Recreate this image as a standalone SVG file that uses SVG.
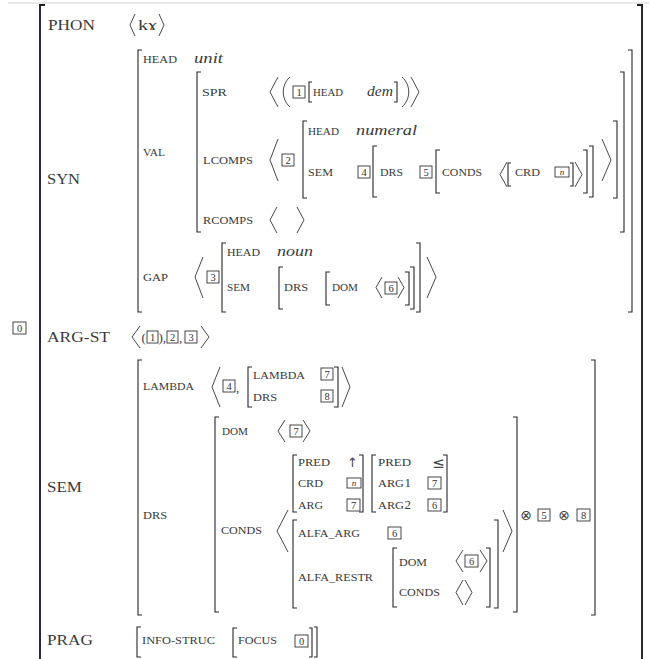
<svg xmlns="http://www.w3.org/2000/svg" width="649" height="659" viewBox="0 0 649 659">
<style>
.b{fill:none;stroke:#262630;stroke-width:1.1}
.ob{fill:none;stroke:#1e1e28;stroke-width:1.9}
.a{fill:none;stroke:#333;stroke-width:0.9}
.t rect{fill:none;stroke:#333;stroke-width:0.9}
.t text{font-family:"Liberation Serif",serif;font-size:10.5px;fill:#333;text-anchor:middle}
.f{font-family:"Liberation Serif",serif;font-size:11px;fill:#3a3a3a}
.L{font-family:"Liberation Serif",serif;font-size:15px;fill:#3a3a3a}
.i{font-family:"Liberation Serif",serif;font-size:15px;font-style:italic;fill:#3a3a3a}
.s{font-family:"DejaVu Sans",sans-serif;fill:#444;text-anchor:middle}
</style>
<line x1="8" y1="3" x2="649" y2="3" stroke="#d4d4d4" stroke-width="1"/>
<g id="outer">
<path class="ob" d="M45 5 H40 V659"/>
<path class="ob" d="M637 5 H642 V659"/>
<g class="t"><rect x="13" y="322" width="13" height="12"/><text x="19.5" y="331.5">0</text></g>
</g>
<g id="phon">
<text class="L" x="48" y="30" textLength="47" lengthAdjust="spacingAndGlyphs">PHON</text>
<path class="a" d="M135 14 L130 25 L135 36"/>
<text class="L" x="138" y="30" textLength="19" lengthAdjust="spacingAndGlyphs" style="font-family:'Liberation Serif','DejaVu Serif',serif">kɤ</text>
<path class="a" d="M159 14 L164 25 L159 36"/>
</g>
<g id="syn">
<path class="b" d="M142 50 H138 V312 H142"/>
<path class="b" d="M628 50 H632 V312 H628"/>
<text class="L" x="47" y="184" textLength="33" lengthAdjust="spacingAndGlyphs">SYN</text>
<text class="f" x="143" y="63" textLength="34" lengthAdjust="spacingAndGlyphs">HEAD</text>
<text class="i" x="194" y="63" textLength="29" lengthAdjust="spacingAndGlyphs">unit</text>
<text class="f" x="143" y="155.5" textLength="22" lengthAdjust="spacingAndGlyphs">VAL</text>
<text class="f" x="143" y="280.5" textLength="25" lengthAdjust="spacingAndGlyphs">GAP</text>
<g id="val">
<path class="b" d="M201 72 H197 V232 H201"/>
<path class="b" d="M620 72 H624 V232 H620"/>
<text class="f" x="202" y="95.5" textLength="25" lengthAdjust="spacingAndGlyphs">SPR</text>
<path class="a" d="M278 77 L270 92 L278 107"/>
<path class="a" d="M290 77 C281 85 281 99 290 107"/>
<g class="t"><rect x="293" y="86" width="12" height="12"/><text x="299" y="96">1</text></g>
<path class="b" d="M312 82 H309 V102 H312"/>
<text class="f" x="313" y="95.5" textLength="30" lengthAdjust="spacingAndGlyphs">HEAD</text>
<text class="i" x="367" y="95.5" textLength="26" lengthAdjust="spacingAndGlyphs">dem</text>
<path class="b" d="M394 82 H397 V102 H394"/>
<path class="a" d="M402 77 C411 85 411 99 402 107"/>
<path class="a" d="M411 77 L419 92 L411 107"/>
<text class="f" x="203" y="163.5" textLength="50" lengthAdjust="spacingAndGlyphs">LCOMPS</text>
<path class="a" d="M278 139 L270 160 L278 181"/>
<g class="t"><rect x="282" y="154" width="12" height="12"/><text x="288" y="164">2</text></g>
<path class="b" d="M307 121 H303 V198 H307"/>
<text class="f" x="308" y="134.5" textLength="31" lengthAdjust="spacingAndGlyphs">HEAD</text>
<text class="i" x="356" y="134.5" textLength="61" lengthAdjust="spacingAndGlyphs">numeral</text>
<text class="f" x="308" y="176" textLength="25" lengthAdjust="spacingAndGlyphs">SEM</text>
<g class="t"><rect x="358" y="166" width="12" height="12"/><text x="364" y="176">4</text></g>
<path class="b" d="M377 146 H373 V197 H377"/>
<text class="f" x="380" y="176" textLength="23" lengthAdjust="spacingAndGlyphs">DRS</text>
<g class="t"><rect x="420" y="166" width="12" height="12"/><text x="426" y="176">5</text></g>
<path class="b" d="M440 150 H436 V193 H440"/>
<text class="f" x="442" y="176" textLength="40" lengthAdjust="spacingAndGlyphs">CONDS</text>
<path class="a" d="M507 162 L500 174.5 L507 187"/>
<path class="b" d="M511 163 H508 V186 H511"/>
<text class="f" x="515" y="176" textLength="25" lengthAdjust="spacingAndGlyphs">CRD</text>
<g class="t"><rect x="555" y="167" width="14" height="10"/><text x="562" y="175" style="font-style:italic;font-size:9px">n</text></g>
<path class="b" d="M570 163 H573 V186 H570"/>
<path class="a" d="M575 162 L582 174.5 L575 187"/>
<path class="b" d="M583 150 H587 V193 H583"/>
<path class="b" d="M589 146 H593 V197 H589"/>
<path class="a" d="M602 139 L611 160 L602 181"/>
<path class="b" d="M613 121 H617 V198 H613"/>
<text class="f" x="203" y="223.5" textLength="50" lengthAdjust="spacingAndGlyphs">RCOMPS</text>
<path class="a" d="M277 207 L270 220 L277 233"/>
<path class="a" d="M297 207 L304 220 L297 233"/>
</g>
<g id="gap">
<path class="a" d="M203 257 L195 277 L203 298"/>
<g class="t"><rect x="207" y="271" width="12" height="12"/><text x="213" y="281">3</text></g>
<path class="b" d="M226 243 H222 V312 H226"/>
<text class="f" x="227" y="255.5" textLength="33" lengthAdjust="spacingAndGlyphs">HEAD</text>
<text class="i" x="277" y="255.5" textLength="36" lengthAdjust="spacingAndGlyphs">noun</text>
<text class="f" x="227" y="290.5" textLength="23" lengthAdjust="spacingAndGlyphs">SEM</text>
<path class="b" d="M283 267 H279 V309 H283"/>
<text class="f" x="284" y="290.5" textLength="24" lengthAdjust="spacingAndGlyphs">DRS</text>
<path class="b" d="M330 272 H326 V305 H330"/>
<text class="f" x="332" y="290.5" textLength="26" lengthAdjust="spacingAndGlyphs">DOM</text>
<path class="a" d="M382 277 L376 287.5 L382 298"/>
<g class="t"><rect x="385" y="282" width="12" height="12"/><text x="391" y="292">6</text></g>
<path class="a" d="M398 277 L404 287.5 L398 298"/>
<path class="b" d="M405 272 H409 V305 H405"/>
<path class="b" d="M410 267 H414 V309 H410"/>
<path class="b" d="M416 243 H420 V312 H416"/>
<path class="a" d="M427 257 L436 277 L427 298"/>
</g>
</g>
<g id="argst">
<text class="L" x="47" y="342" textLength="63" lengthAdjust="spacingAndGlyphs">ARG-ST</text>
<path class="a" d="M140 326 L132 337 L140 348"/>
<text class="L" x="141.5" y="342" style="font-size:13px">(</text>
<g class="t"><rect x="147" y="331" width="11" height="12"/><text x="152.5" y="341">1</text></g>
<text class="L" x="158.5" y="342" style="font-size:13px">),</text>
<g class="t"><rect x="167" y="331" width="11" height="12"/><text x="172.5" y="341">2</text></g>
<text class="L" x="179" y="342" style="font-size:13px">,</text>
<g class="t"><rect x="185" y="331" width="12" height="12"/><text x="191" y="341">3</text></g>
<path class="a" d="M201 326 L209 337 L201 348"/>
</g>
<g id="sem">
<path class="b" d="M142 360 H138 V615 H142"/>
<path class="b" d="M591 360 H595 V615 H591"/>
<text class="L" x="47" y="492" textLength="35" lengthAdjust="spacingAndGlyphs">SEM</text>
<text class="f" x="143" y="389.5" textLength="51" lengthAdjust="spacingAndGlyphs">LAMBDA</text>
<path class="a" d="M220 367 L212 387 L220 407"/>
<g class="t"><rect x="223" y="380" width="12" height="12"/><text x="229" y="390">4</text></g>
<text class="L" x="236" y="392" style="font-size:13px">,</text>
<path class="b" d="M252 367 H248 V407 H252"/>
<text class="f" x="253" y="378.5" textLength="52" lengthAdjust="spacingAndGlyphs">LAMBDA</text>
<g class="t"><rect x="321" y="368" width="12" height="12"/><text x="327" y="378">7</text></g>
<text class="f" x="253" y="400.5" textLength="24" lengthAdjust="spacingAndGlyphs">DRS</text>
<g class="t"><rect x="321" y="390" width="12" height="12"/><text x="327" y="400">8</text></g>
<path class="b" d="M334 367 H338 V407 H334"/>
<path class="a" d="M342 367 L350 387 L342 407"/>
<text class="f" x="143" y="518.5" textLength="24" lengthAdjust="spacingAndGlyphs">DRS</text>
<g id="drs">
<path class="b" d="M219 417 H215 V612 H219"/>
<path class="b" d="M513 417 H517 V612 H513"/>
<text class="f" x="222" y="434.5" textLength="26" lengthAdjust="spacingAndGlyphs">DOM</text>
<path class="a" d="M285 420 L278 431 L285 442"/>
<g class="t"><rect x="290" y="425" width="12" height="12"/><text x="296" y="435">7</text></g>
<path class="a" d="M303 420 L310 431 L303 442"/>
<text class="f" x="221" y="533.5" textLength="41" lengthAdjust="spacingAndGlyphs">CONDS</text>
<path class="a" d="M288 510 L277 531 L288 552"/>
<path class="b" d="M297 455 H293 V512 H297"/>
<text class="f" x="298" y="465.5" textLength="32" lengthAdjust="spacingAndGlyphs">PRED</text>
<text class="s" x="352.5" y="467" style="font-size:13px">↑</text>
<text class="f" x="298" y="486.5" textLength="25" lengthAdjust="spacingAndGlyphs">CRD</text>
<g class="t"><rect x="347" y="478" width="14" height="10"/><text x="354" y="486" style="font-style:italic;font-size:9px">n</text></g>
<text class="f" x="298" y="508.5" textLength="25" lengthAdjust="spacingAndGlyphs">ARG</text>
<g class="t"><rect x="347" y="499" width="13" height="12"/><text x="353.5" y="509">7</text></g>
<path class="b" d="M359 455 H363 V512 H359"/>
<path class="b" d="M376 455 H372 V512 H376"/>
<text class="f" x="378" y="465.5" textLength="33" lengthAdjust="spacingAndGlyphs">PRED</text>
<text class="s" x="438.5" y="468" style="font-size:15px">≤</text>
<text class="f" x="378" y="486.5" textLength="26" lengthAdjust="spacingAndGlyphs">ARG</text>
<text class="L" x="404.5" y="487" style="font-size:13px">1</text>
<g class="t"><rect x="428" y="477" width="13" height="12"/><text x="434.5" y="487">7</text></g>
<text class="f" x="378" y="508.5" textLength="26" lengthAdjust="spacingAndGlyphs">ARG</text>
<text class="L" x="404.5" y="509" style="font-size:13px">2</text>
<g class="t"><rect x="428" y="499" width="13" height="12"/><text x="434.5" y="509">6</text></g>
<path class="b" d="M443 455 H447 V512 H443"/>
<path class="b" d="M297 520 H293 V608 H297"/>
<path class="b" d="M494 520 H498 V608 H494"/>
<text class="f" x="298" y="536.5" textLength="62" lengthAdjust="spacingAndGlyphs">ALFA_ARG</text>
<g class="t"><rect x="388" y="527" width="13" height="12"/><text x="394.5" y="537">6</text></g>
<text class="f" x="298" y="580.5" textLength="75" lengthAdjust="spacingAndGlyphs">ALFA_RESTR</text>
<path class="b" d="M397 548 H393 V607 H397"/>
<path class="b" d="M486 548 H490 V607 H486"/>
<text class="f" x="399" y="565.5" textLength="28" lengthAdjust="spacingAndGlyphs">DOM</text>
<path class="a" d="M463 550 L456 561 L463 572"/>
<g class="t"><rect x="465" y="555" width="13" height="12"/><text x="471.5" y="565">6</text></g>
<path class="a" d="M480 550 L487 561 L480 572"/>
<text class="f" x="399" y="595.5" textLength="41" lengthAdjust="spacingAndGlyphs">CONDS</text>
<path class="a" d="M463 580 L456 592.5 L463 605"/>
<path class="a" d="M465 580 L472 592.5 L465 605"/>
<path class="a" d="M503 510 L512 531 L503 552"/>
</g>
<text class="s" x="526" y="520" style="font-size:14px">⊗</text>
<g class="t"><rect x="538" y="509" width="12" height="12"/><text x="544" y="519">5</text></g>
<text class="s" x="564" y="520" style="font-size:14px">⊗</text>
<g class="t"><rect x="577" y="509" width="13" height="12"/><text x="583.5" y="519">8</text></g>
</g>
<g id="prag">
<text class="L" x="47" y="645" textLength="46" lengthAdjust="spacingAndGlyphs">PRAG</text>
<path class="b" d="M141 627 H137 V657 H141"/>
<text class="f" x="142" y="643.5" textLength="73" lengthAdjust="spacingAndGlyphs">INFO-STRUC</text>
<path class="b" d="M237 628 H233 V657 H237"/>
<text class="f" x="238" y="643.5" textLength="39" lengthAdjust="spacingAndGlyphs">FOCUS</text>
<g class="t"><rect x="295" y="635" width="13" height="12"/><text x="301.5" y="645">0</text></g>
<path class="b" d="M309 628 H312 V657 H309"/>
<path class="b" d="M314 627 H317 V657 H314"/>
</g>
</svg>
